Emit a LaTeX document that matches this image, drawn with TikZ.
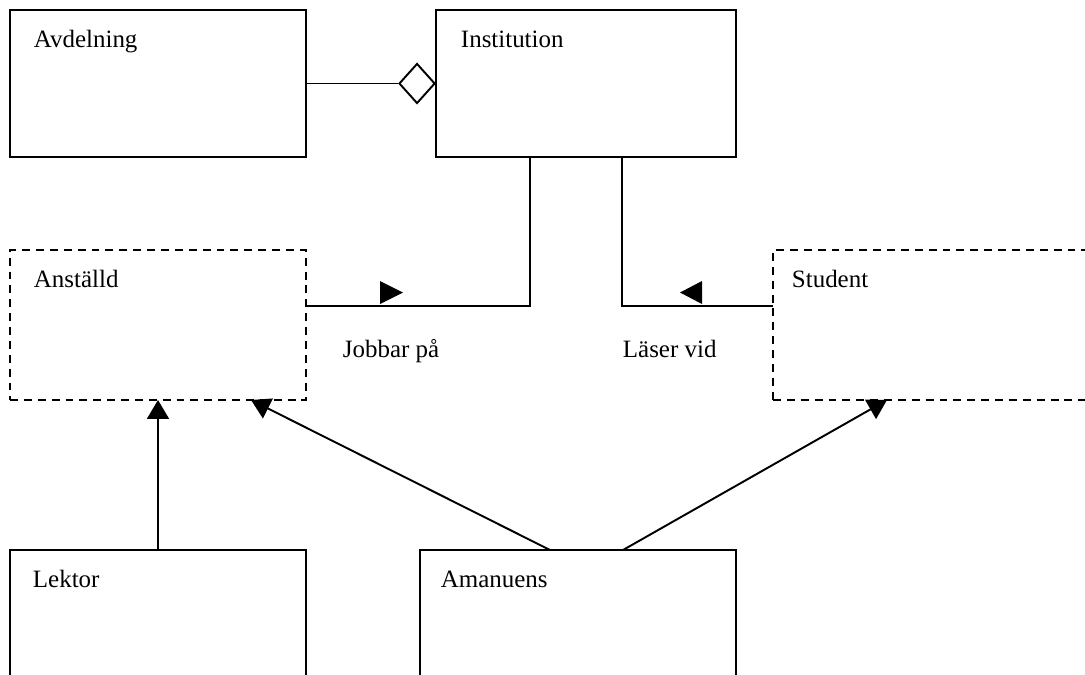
\documentclass[tikz,border=0pt]{standalone}
\usepackage{fontspec}
\setmainfont{Liberation Serif}
\usetikzlibrary{calc, arrows.meta, shapes.geometric}

\begin{document}
\begin{tikzpicture}[x=0.02cm, y=-0.02cm, line width=1.1pt,
    box/.style={draw, rectangle, anchor=north west, inner sep=0pt, outer sep=0pt, minimum width=5.92cm, minimum height=2.94cm},
    abstractbox/.style={box, dashed, dash pattern=on 4.5pt off 3.4pt, minimum height=3cm},
    label text/.style={anchor=base west, inner sep=0pt, font=\fontsize{14.2pt}{17pt}\selectfont},
    isa/.style={-{Triangle[length=0.38cm, width=0.44cm]}}]
            \path[use as bounding box, clip] (0,0) rectangle (1085,674);
            % classes
            \node[box] (avd) at (10, 10) {};
            \node[box, minimum width=6cm] (inst) at (436, 10) {};
            \node[abstractbox] (anst) at (10, 250) {};
            \node[abstractbox, minimum width=6.8cm] (stud) at (773, 250) {};
            \node[box, minimum height=3cm] (lekt) at (10, 550) {};
            \node[box, minimum width=6.32cm, minimum height=3cm] (aman) at (420, 550) {};
            \node[label text] (avdname) at ($(avd.north west) + (23, 37)$) {Avdelning};
            \node[label text] (instname) at ($(inst.north west) + (24, 37)$) {Institution};
            \node[label text] (anstname) at ($(anst.north west) + (23, 37)$) {Anställd};
            \node[label text] (studname) at ($(stud.north west) + (18, 37)$) {Student};
            \node[label text] (lektname) at ($(lekt.north west) + (22, 37)$) {Lektor};
            \node[label text] (amanname) at ($(aman.north west) + (20, 37)$) {Amanuens};
            % aggregation
            \node[diamond, draw, fill=white, inner sep=0pt, minimum width=0.72cm, minimum height=0.8cm, anchor=east] (agg) at (inst.west) {};
            \draw (avd.east) -- (agg.west);
            % associations
            \coordinate (assoc) at (530, 306);
            \draw ($(inst.south west) + (94, 0)$) |- (anst.east |- assoc);
            \draw ($(inst.south west) + (186, 0)$) |- (stud.west |- assoc);
            \fill (380, 281) -- (403, 292.5) -- (380, 304) -- cycle;
            \fill (702, 281) -- (680, 292.5) -- (702, 304) -- cycle;
            \node[label text] (jobbar) at (342, 357) {Jobbar på};
            \node[label text] (laser) at (622, 357) {Läser vid};
            % generalisations
            \draw[isa] ($(lekt.north west) + (148, 0)$) -- ($(anst.south west) + (148, 0)$);
            \draw[isa] ($(aman.north west) + (130, 0)$) -- ($(anst.south west) + (241, 0)$);
            \draw[isa] ($(aman.north west) + (203, 0)$) -- ($(stud.south west) + (114, 0)$);
        \end{tikzpicture}
\end{document}
